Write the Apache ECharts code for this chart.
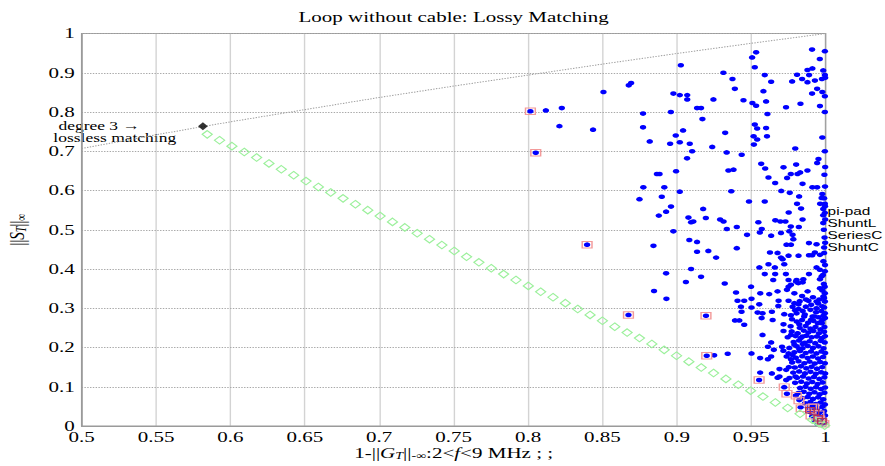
<!DOCTYPE html>
<html>
<head>
<meta charset="utf-8">
<script src="https://cdn.jsdelivr.net/npm/echarts@6/dist/echarts.min.js"></script>
<style>
  html, body { margin: 0; padding: 0; background: #fff; overflow: hidden; }
  /* the figure is drawn narrow and widened, like the stretched MATLAB export */
  #chart { width: 632px; height: 466px; transform: scaleX(1.4003); transform-origin: 0 0; }
</style>
</head>
<body>
<div id="chart"></div>
<script>
// ---------- data ----------
const legendNames = ['pi-pad', 'ShuntL', 'SeriesC', 'ShuntC'];

// pi-pad designs: scattered points [1-||G||, ||S||]
const piPadPts = [
  [0.8016,0.802],[0.8120,0.804],[0.8227,0.810],[0.8052,0.696],[0.8211,0.764],[0.8437,0.755],
  [0.8507,0.851],[0.8677,0.868],[0.8693,0.874],[0.8773,0.796],[0.8773,0.761],[0.8960,0.800],
  [0.8977,0.847],[0.9020,0.843],[0.9070,0.843],[0.9070,0.832],[0.9027,0.919],[0.9136,0.810],
  [0.9163,0.810],[0.9172,0.782],[0.9246,0.832],[0.9313,0.900],[0.9374,0.884],[0.9390,0.859],
  [0.9448,0.830],[0.9506,0.939],[0.9533,0.952],[0.9524,0.914],[0.9508,0.823],[0.9533,0.816],
  [0.9591,0.894],[0.9634,0.877],[0.9582,0.853],[0.9600,0.827],[0.9609,0.795],[0.9524,0.768],
  [0.9540,0.758],[0.9600,0.759],[0.9734,0.812],[0.9775,0.878],[0.9808,0.895],[0.9842,0.884],
  [0.9878,0.876],[0.9889,0.894],[0.9878,0.907],[0.9911,0.911],[0.9909,0.959],[0.9961,0.935],
  [0.9995,0.955],[0.9928,0.880],[0.9975,0.884],[0.9984,0.906],[0.9995,0.894],[0.9997,0.887],
  [0.9943,0.859],[0.9909,0.847],[0.9978,0.851],[0.9995,0.840],[0.9831,0.821],[0.9962,0.815],
  [0.9995,0.800],
  [0.8818,0.725],[0.8866,0.642],[0.8884,0.642],[0.8775,0.608],[0.8916,0.608],[0.8899,0.584],
  [0.8749,0.578],[0.8955,0.719],[0.8993,0.740],[0.9020,0.723],[0.9042,0.753],[0.9087,0.719],
  [0.9103,0.700],[0.9069,0.682],[0.8995,0.649],[0.9020,0.597],
  [0.9325,0.747],[0.9238,0.711],[0.9335,0.697],[0.9436,0.691],[0.9516,0.738],[0.9540,0.730],
  [0.9518,0.717],[0.9606,0.738],[0.9347,0.651],[0.9381,0.653],[0.9366,0.598],[0.9485,0.572],
  [0.9591,0.572],[0.9567,0.668],[0.9594,0.656],[0.9616,0.633],[0.9661,0.619],[0.9702,0.599],
  [0.9717,0.659],[0.9741,0.632],[0.9766,0.642],[0.9802,0.666],[0.9811,0.642],[0.9829,0.646],
  [0.9878,0.651],[0.9845,0.617],[0.9796,0.707],[0.9759,0.594],[0.9822,0.585],[0.9911,0.608],
  [0.9943,0.608],[0.9943,0.670],[0.9952,0.680],[0.9978,0.735],[0.9995,0.700],[0.9978,0.591],
  [0.9973,0.581],[0.9963,0.566],[0.9995,0.566],[0.9984,0.553],[0.9995,0.543],[0.9984,0.537],
  [0.9997,0.526],[0.9984,0.517],[0.9808,0.566],[0.9835,0.554],[0.9752,0.544],[0.9845,0.526],
  [0.9662,0.524],[0.9696,0.521],[0.9730,0.521],[0.9766,0.508],[0.9820,0.507],[0.9548,0.519],
  [0.9571,0.502],[0.9403,0.507],[0.9336,0.502],[0.9291,0.526],[0.9314,0.521],[0.9177,0.553],
  [0.9195,0.530],[0.9078,0.531],[0.9096,0.519],[0.9111,0.521],[0.8961,0.559],[0.8928,0.546],
  [0.8879,0.536],
  [0.8977,0.496],[0.8843,0.459],[0.9084,0.474],[0.9136,0.469],[0.9136,0.444],[0.9212,0.446],
  [0.9264,0.429],[0.9403,0.453],[0.9472,0.487],[0.9558,0.493],[0.9634,0.485],[0.9700,0.492],
  [0.9756,0.496],[0.9778,0.487],[0.9783,0.476],[0.9767,0.462],[0.9737,0.462],[0.9888,0.466],
  [0.9939,0.463],[0.9626,0.442],[0.9677,0.441],[0.9711,0.425],[0.9751,0.434],[0.9700,0.429],
  [0.9722,0.412],[0.9659,0.404],[0.9818,0.434],[0.9888,0.435],[0.9910,0.435],[0.9928,0.442],
  [0.9962,0.436],[0.9997,0.467],[0.9990,0.455],[0.9990,0.441],[0.9555,0.404],[0.9616,0.412],
  [0.9591,0.387],[0.9661,0.387],[0.9648,0.372],[0.9733,0.387],[0.9751,0.372],[0.9805,0.372],
  [0.9816,0.364],[0.9850,0.374],[0.9888,0.387],[0.9939,0.404],[0.9961,0.398],[0.9973,0.381],
  [0.9962,0.374],[0.9995,0.394],[0.8928,0.389],[0.9096,0.400],[0.9061,0.367],[0.9163,0.380],
  [0.9322,0.363],[0.9499,0.355],[0.9398,0.340],[0.8847,0.344],[0.8930,0.324],
  [0.9561,0.338],[0.9621,0.336],[0.9677,0.343],[0.9740,0.347],[0.9751,0.355],[0.9767,0.360],
  [0.9801,0.368],[0.9846,0.366],[0.9879,0.343],[0.9962,0.351],[0.9995,0.338],
  [0.9408,0.319],[0.9453,0.319],[0.9502,0.324],[0.9554,0.310],[0.9684,0.319],[0.9751,0.319],
  [0.9790,0.313],[0.9818,0.310],[0.9885,0.319],[0.9939,0.317],[0.9995,0.317],
  [0.9431,0.304],[0.9502,0.302],[0.9682,0.306],[0.9778,0.304],[0.9818,0.298],[0.9867,0.304],
  [0.9939,0.300],
  [0.9435,0.291],[0.9543,0.289],[0.9576,0.287],[0.9639,0.291],[0.9722,0.285],[0.9767,0.282],
  [0.9805,0.287],[0.9856,0.279],[0.9912,0.279],[0.9953,0.277],[0.9995,0.287],
  [0.8675,0.283],[0.9196,0.281],[0.8397,0.462],
  [0.9391,0.269],[0.9420,0.269],[0.9453,0.258],[0.9570,0.275],[0.9644,0.270],[0.9717,0.259],
  [0.9774,0.272],[0.9823,0.259],[0.9901,0.270],[0.9962,0.264],
  [0.9576,0.232],[0.9717,0.242],[0.9767,0.232],[0.9811,0.236],[0.9846,0.228],[0.9634,0.213],
  [0.9612,0.202],[0.9652,0.194],[0.9707,0.202],[0.9716,0.192],[0.9751,0.185],[0.9767,0.170],
  [0.9778,0.181],[0.9823,0.196],[0.9790,0.207],[0.9846,0.209],[0.9502,0.185],[0.9560,0.173],
  [0.9612,0.170],[0.9634,0.177],[0.9342,0.184],[0.9251,0.180],[0.9201,0.179],[0.9560,0.136],
  [0.9639,0.134],[0.9690,0.145],[0.9735,0.143],[0.9753,0.150],[0.9553,0.117],[0.9677,0.123],
  [0.9690,0.126],[0.9735,0.117],[0.9757,0.122],[0.9797,0.126],[0.9722,0.099],[0.9740,0.082],
  [0.9800,0.078],[0.9823,0.066],[0.9832,0.048]
];

// pi-pad designs packed close to x = 1
const piPadCluster = [
  [0.9790,0.338],[0.9842,0.331],[0.9868,0.322],[0.9915,0.328],[0.9958,0.322],[0.9985,0.330],
  [0.9826,0.318],[0.9903,0.309],[0.9950,0.312],[0.9978,0.305],
  [0.9795,0.295],[0.9846,0.293],[0.9898,0.296],[0.9936,0.290],[0.9972,0.293],
  [0.9860,0.284],[0.9925,0.279],[0.9985,0.281],
  [0.9806,0.266],[0.9842,0.270],[0.9882,0.263],[0.9918,0.268],[0.9947,0.262],[0.9978,0.270],
  [0.9765,0.254],[0.9826,0.250],[0.9866,0.255],[0.9898,0.248],[0.9932,0.252],[0.9965,0.246],[0.9992,0.252],
  [0.9772,0.241],[0.9812,0.236],[0.9853,0.243],[0.9884,0.238],[0.9918,0.242],[0.9955,0.236],[0.9990,0.240],
  [0.9745,0.226],[0.9798,0.229],[0.9833,0.224],[0.9870,0.230],[0.9906,0.226],[0.9942,0.228],[0.9976,0.224],[0.9996,0.229],
  [0.9785,0.214],[0.9822,0.218],[0.9860,0.212],[0.9893,0.216],[0.9930,0.211],[0.9967,0.217],[0.9994,0.213],
  [0.9756,0.199],[0.9806,0.203],[0.9845,0.198],[0.9880,0.204],[0.9915,0.199],[0.9952,0.203],[0.9986,0.198],
  [0.9790,0.188],[0.9828,0.191],[0.9866,0.186],[0.9902,0.190],[0.9938,0.185],[0.9972,0.190],[0.9997,0.186],
  [0.9738,0.177],[0.9800,0.174],[0.9843,0.178],[0.9879,0.173],[0.9914,0.177],[0.9950,0.172],[0.9983,0.176],
  [0.9775,0.162],[0.9818,0.165],[0.9857,0.160],[0.9892,0.164],[0.9927,0.159],[0.9963,0.163],[0.9995,0.160],
  [0.9793,0.149],[0.9834,0.152],[0.9870,0.147],[0.9906,0.151],[0.9942,0.146],[0.9977,0.150],
  [0.9782,0.136],[0.9822,0.139],[0.9861,0.134],[0.9898,0.138],[0.9934,0.133],[0.9970,0.137],[0.9997,0.134],
  [0.9808,0.123],[0.9848,0.126],[0.9886,0.121],[0.9922,0.125],[0.9958,0.120],[0.9992,0.124],
  [0.9795,0.110],[0.9836,0.113],[0.9874,0.108],[0.9910,0.112],[0.9946,0.107],[0.9980,0.111],
  [0.9828,0.097],[0.9865,0.100],[0.9900,0.095],[0.9936,0.099],[0.9970,0.094],[0.9996,0.098],
  [0.9818,0.084],[0.9853,0.087],[0.9890,0.082],[0.9925,0.086],[0.9960,0.081],[0.9992,0.085],
  [0.9845,0.071],[0.9880,0.074],[0.9915,0.069],[0.9950,0.073],[0.9984,0.068],
  [0.9862,0.058],[0.9898,0.061],[0.9933,0.056],[0.9966,0.060],[0.9995,0.055],
  [0.9880,0.047],[0.9912,0.050],[0.9946,0.045],[0.9978,0.049],
  [0.9893,0.036],[0.9925,0.039],[0.9958,0.034],[0.9990,0.038],
  [0.9910,0.025],[0.9942,0.028],[0.9972,0.023],[0.9996,0.027],
  [0.9926,0.014],[0.9956,0.017],[0.9985,0.012],
  [0.9945,0.006],[0.9970,0.004],[0.9994,0.007]
];

// right-hand column of designs with |G| almost 0
const edgeColumn = [
  [0.9975,0.262],[0.9996,0.275],[0.9990,0.302],[0.9990,0.326],[0.9978,0.345],[0.9994,0.355],
  [0.9988,0.362],[0.9982,0.385],[0.9996,0.410],[0.9985,0.420],[0.9993,0.480],[0.9988,0.500],
  [0.9996,0.560],[0.9990,0.580],[0.9996,0.610],[0.9992,0.640],[0.9997,0.660]
];

// ShuntL designs
const shuntLPts = [
  [0.8016,0.802],[0.8052,0.696],[0.8397,0.462],[0.8675,0.283],[0.9196,0.281],[0.9201,0.179],
  [0.9553,0.117],[0.9722,0.099],[0.9740,0.082],[0.9803,0.077],[0.9821,0.065],[0.9836,0.045],
  [0.9905,0.047],[0.9920,0.048],[0.9902,0.026],[0.9955,0.030],[0.9960,0.017],[0.9975,0.010],
  [0.9988,0.006]
];

// SeriesC designs
const seriesCX = [0.5844,0.5927,0.6010,0.6093,0.6176,0.6259,0.6342,0.6425,0.6508,0.6591,
  0.6674,0.6757,0.6840,0.6923,0.7006,0.7089,0.7172,0.7255,0.7338,0.7421,0.7504,0.7587,0.7670,
  0.7753,0.7836,0.7919,0.8002,0.8085,0.8168,0.8251,0.8334,0.8417,0.8500,0.8583,0.8666,0.8749,
  0.8832,0.8915,0.8998,0.9081,0.9164,0.9247,0.9330,0.9413,0.9496,0.9579,0.9662,0.9745,0.9828,
  0.9911,0.9994,0.9935,0.9955,0.9975];
const seriesCY = [0.743,0.728,0.713,0.698,0.684,0.669,0.654,0.639,0.624,0.609,
  0.595,0.580,0.565,0.550,0.535,0.520,0.506,0.491,0.476,0.461,0.446,0.431,0.417,
  0.402,0.387,0.372,0.357,0.342,0.328,0.313,0.298,0.283,0.268,0.253,0.238,0.224,
  0.209,0.194,0.179,0.164,0.149,0.135,0.120,0.105,0.090,0.075,0.060,0.046,0.031,
  0.016,0.001,0.012,0.008,0.005];

// ShuntC designs
const shuntCPts = [[0.9895,0.040],[0.9925,0.036],[0.9950,0.020],[0.9975,0.012]];

// lossless bound (dotted curve)
const boundX = [0.50,0.55,0.60,0.65,0.70,0.75,0.80,0.85,0.90,0.95,1.00];
const boundY = [0.707,0.742,0.775,0.806,0.837,0.866,0.894,0.922,0.949,0.975,1.000];

// degree 3 lossless matching
const losslessPt = [0.5815, 0.7635];

// axes
const xMin = 0.5, xMax = 1, xStep = 0.05;
const yMin = 0, yMax = 1, yStep = 0.1;

// ---------- chart ----------
const serif = '"Liberation Serif", "Times New Roman", serif';
const sans = '"Liberation Sans", Arial, sans-serif';

const piPadAll = piPadPts.concat(piPadCluster, edgeColumn);
const seriesCPts = seriesCX.map((x, i) => [x, seriesCY[i]]);
const boundPts = boundX.map((x, i) => [x, boundY[i]]);

const richName = {
  it:   { fontFamily: serif, fontSize: 15, fontStyle: 'italic', color: '#000', lineHeight: 16 },
  sub:  { fontFamily: serif, fontSize: 10, color: '#000', verticalAlign: 'bottom', lineHeight: 16 },
  isub: { fontFamily: serif, fontSize: 10, fontStyle: 'italic', color: '#000', verticalAlign: 'bottom', lineHeight: 16 }
};
const tickFmt = v => String(+v.toFixed(2));

const chart = echarts.init(document.getElementById('chart'), null, { renderer: 'svg' });
chart.setOption({
  animation: false,
  backgroundColor: '#fff',
  title: {
    text: 'Loop without cable: Lossy Matching',
    left: 324, top: 10, textAlign: 'center', padding: 0,
    textStyle: { fontFamily: serif, fontSize: 15, fontWeight: 'normal', color: '#000' }
  },
  legend: {
    data: legendNames,
    orient: 'vertical', left: 586, top: 205, padding: 0,
    icon: 'none', itemWidth: 0, itemHeight: 13, itemGap: 0,
    selectedMode: false,
    textStyle: { fontFamily: sans, fontSize: 11, color: '#000' }
  },
  grid: {
    left: 58.3, top: 33.5, width: 531.3, height: 392.5,
    outerBoundsMode: 'none', containLabel: false,
    show: true, borderColor: '#9a9a9a', borderWidth: 1
  },
  xAxis: {
    type: 'value', min: xMin, max: xMax, interval: xStep,
    name: '1-||{it|G}{isub|T}||{sub|-∞}:2<{it|f}<9 MHz ; ;',
    nameLocation: 'middle', nameGap: 19, nameMoveOverlap: false,
    nameTextStyle: { fontFamily: serif, fontSize: 15, color: '#000', lineHeight: 16, rich: richName },
    axisLine: { show: true, lineStyle: { color: '#9a9a9a', width: 1 } },
    axisTick: { show: false },
    axisLabel: { formatter: tickFmt, fontFamily: serif, fontSize: 15, color: '#000', margin: 5, lineHeight: 13 },
    splitLine: { show: true, lineStyle: { type: 'dotted', color: '#a8a8a8', width: 1 } }
  },
  yAxis: {
    type: 'value', min: yMin, max: yMax, interval: yStep,
    name: '||{it|S}{isub|T}||{sub|∞}',
    nameLocation: 'middle', nameGap: 38, nameRotate: 90, nameMoveOverlap: false,
    nameTextStyle: { fontFamily: serif, fontSize: 15, color: '#000', lineHeight: 16, rich: richName },
    axisLine: { show: true, lineStyle: { color: '#9a9a9a', width: 1 } },
    axisTick: { show: false },
    axisLabel: { formatter: tickFmt, fontFamily: serif, fontSize: 15, color: '#000', margin: 5, lineHeight: 13 },
    splitLine: { show: true, lineStyle: { type: 'dotted', color: '#a8a8a8', width: 1 } }
  },
  series: [
    {
      name: 'bound', type: 'line', data: boundPts, showSymbol: false, silent: true,
      lineStyle: { type: 'dotted', color: '#9e9e9e', width: 1 }, z: 1
    },
    {
      name: 'pi-pad', type: 'scatter', data: piPadAll,
      symbol: 'circle', symbolSize: 4.6,
      itemStyle: { color: '#0000ff', opacity: 1 }, z: 2
    },
    {
      name: 'ShuntL', type: 'scatter', data: shuntLPts,
      symbol: 'rect', symbolSize: [7, 6.5],
      itemStyle: { color: 'rgba(0,0,0,0)', borderColor: '#f39a9a', borderWidth: 1, opacity: 1 }, z: 3
    },
    {
      name: 'SeriesC', type: 'scatter', data: seriesCPts,
      symbol: 'diamond', symbolSize: [7.2, 7.6],
      itemStyle: { color: 'rgba(0,0,0,0)', borderColor: '#9cf09c', borderWidth: 1, opacity: 1 }, z: 4
    },
    {
      name: 'ShuntC', type: 'scatter', data: shuntCPts,
      symbol: 'rect', symbolSize: [6, 5.5],
      itemStyle: { color: 'rgba(0,0,0,0)', borderColor: '#b0305a', borderWidth: 1, opacity: 1 }, z: 5
    },
    {
      name: 'lossless', type: 'scatter', data: [losslessPt],
      symbol: 'diamond', symbolSize: [7, 8],
      itemStyle: { color: '#000' }, z: 6
    }
  ],
  graphic: [
    { type: 'text', left: 41.7, top: 118.5, style: { text: 'degree 3 →', font: '12.5px ' + serif, fill: '#000' } },
    { type: 'text', left: 38.1, top: 131, style: { text: 'lossless matching', font: '12.5px ' + serif, fill: '#000' } }
  ]
});
</script>
</body>
</html>
